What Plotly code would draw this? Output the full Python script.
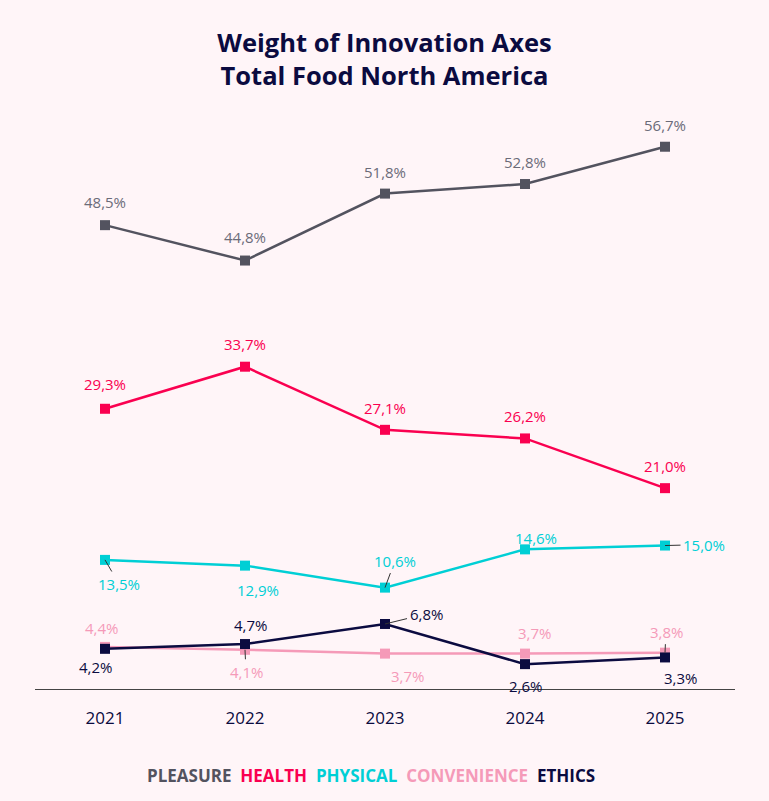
import plotly.graph_objects as go

# data
years = ["2021", "2022", "2023", "2024", "2025"]
pleasure = [48.5, 44.8, 51.8, 52.8, 56.7]
health = [29.3, 33.7, 27.1, 26.2, 21.0]
physical = [13.5, 12.9, 10.6, 14.6, 15.0]
convenience = [4.4, 4.1, 3.7, 3.7, 3.8]
ethics = [4.2, 4.7, 6.8, 2.6, 3.3]

series_names = ["PLEASURE", "HEALTH", "PHYSICAL", "CONVENIENCE", "ETHICS"]
series_values = [pleasure, health, physical, convenience, ethics]

# styling
BG = "#fff5f8"
NAVY = "#0b0b40"
FONT = "'Open Sans', sans-serif"
line_colors = ["#53535f", "#fa0050", "#00cfd5", "#f59ab8", NAVY]
label_colors = ["#6b6b78", "#fa0050", "#00cfd5", "#f59ab8", NAVY]

# label offsets in px (dx, dy screen-down) and whether a leader line is drawn
label_offsets = [
    [(0, -23), (0, -24), (0, -22), (0, -22), (0, -22)],
    [(0, -25), (0, -23), (0, -22), (0, -22), (0, -22)],
    [(14, 24), (13, 24), (10, -27), (11, -11), (39, -1)],
    [(-4, -19), (1, 22), (22, 22), (9, -21), (1, -21)],
    [(-10, 18), (5, -19), (41, -10), (0, 22), (15, 21)],
]
leaders = [
    [False] * 5,
    [False] * 5,
    [True, True, True, False, True],
    [False, True, False, False, True],
    [False, False, True, False, False],
]

fig = go.Figure()
for name, vals, lc in zip(series_names, series_values, line_colors):
    fig.add_trace(go.Scatter(
        x=years, y=vals, mode="lines+markers", name=name,
        line=dict(color=lc, width=2.5),
        marker=dict(symbol="square", size=10, color=lc),
        showlegend=False, hoverinfo="skip"))

annotations = []
for i, vals in enumerate(series_values):
    for j, v in enumerate(vals):
        dx, dy = label_offsets[i][j]
        txt = f"{v:.1f}%".replace(".", ",")
        # category axis: position by category index
        if leaders[i][j]:
            annotations.append(dict(
                x=j, y=v, xref="x", yref="y", text=txt,
                showarrow=True, arrowhead=0, arrowwidth=1, arrowcolor="#333333",
                ax=dx, ay=dy, standoff=0, startstandoff=1,
                font=dict(family=FONT, size=15, color=label_colors[i])))
        else:
            annotations.append(dict(
                x=j, y=v, xref="x", yref="y", text=txt,
                showarrow=False, xshift=dx, yshift=-dy,
                font=dict(family=FONT, size=15, color=label_colors[i])))

legend_text = "  ".join(
    f"<span style='color:{c}'><b>{n}</b></span>" for n, c in zip(series_names, line_colors))
annotations.append(dict(
    x=0.48, y=0, xref="paper", yref="paper", yshift=-86, yanchor="middle",
    text=legend_text, showarrow=False, font=dict(family=FONT, size=17)))

fig.update_layout(
    width=769, height=801,
    margin=dict(l=35, r=34, t=119, b=112),
    paper_bgcolor=BG, plot_bgcolor=BG,
    title=dict(text="<b>Weight of Innovation Axes<br>Total Food North America</b>",
               x=0.5, xanchor="center", y=1 - 52 / 801, yref="container", yanchor="middle",
               font=dict(family=FONT, size=25.5, color=NAVY)),
    xaxis=dict(type="category", range=[-0.5, 4.5], showgrid=False, zeroline=False,
               showline=True, linecolor="#444444", linewidth=1,
               ticks="outside", ticklen=14, tickcolor="rgba(0,0,0,0)",
               tickfont=dict(family=FONT, size=17, color=NAVY)),
    yaxis=dict(range=[0, 59.6], visible=False),
    annotations=annotations,
)

# drop the browser's default body margin so the figure sits at the page origin
fig.write_html("out.html", config={"displayModeBar": False},
               post_script="document.body.style.margin='0';")
